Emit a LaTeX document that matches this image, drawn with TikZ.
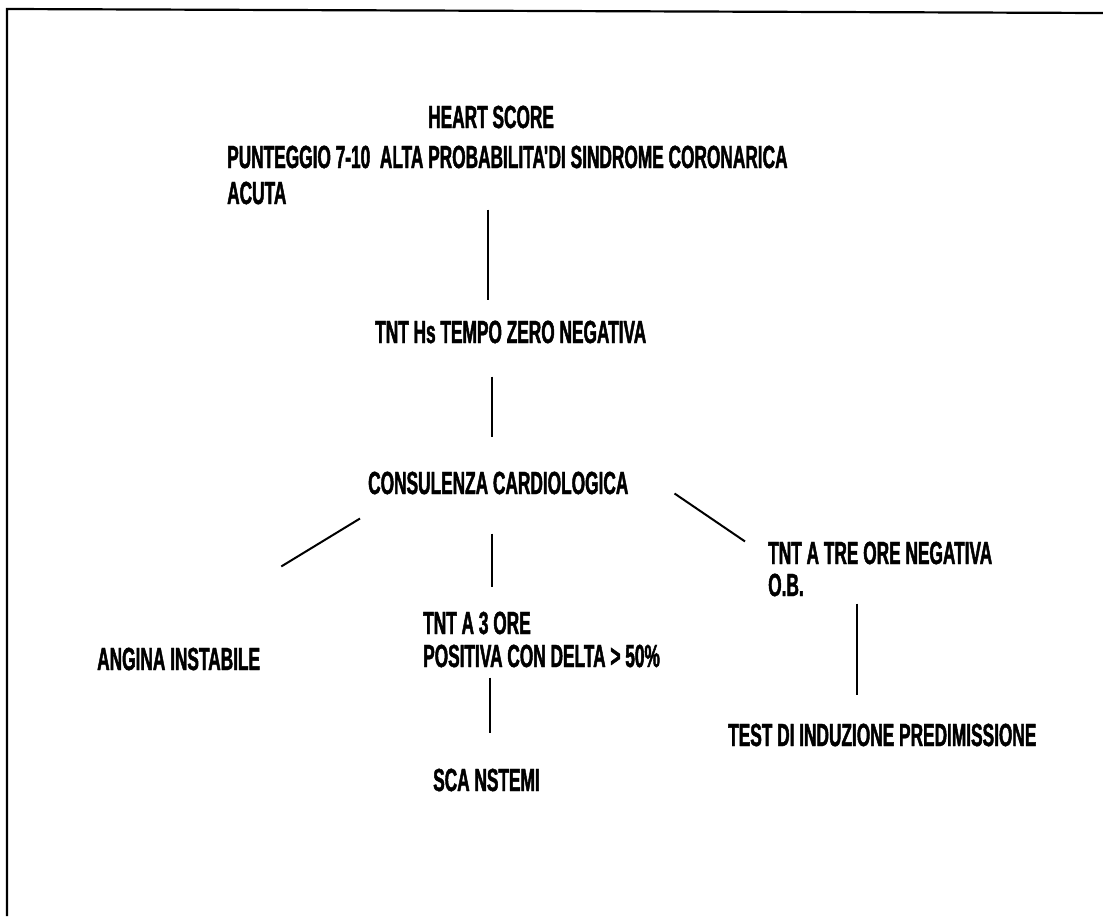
\documentclass[tikz,border=0pt]{standalone}
\usepackage{fontspec}
\setmainfont{Liberation Sans}[FakeStretch=0.54,FakeBold=1.4]
\begin{document}
\begin{tikzpicture}[x=1pt,y=-1pt,
  lbl/.style={font=\bfseries\fontsize{32}{33}\selectfont, inner sep=0pt, anchor=base west, align=left},
  link/.style={line width=2pt, black}]
\useasboundingbox (0,0) rectangle (1103,916);
% page frame (only the left and top edges show)
\draw[line width=2.2pt] (7,916) -- (7,9) -- (1103,13);

% nodes (multi-line nodes are placed by the baseline of their last line)
\node[lbl] (heart) at (428,128) {HEART SCORE};
\node[lbl, font=\bfseries\fontsize{32}{36}\selectfont] (punt) at (227,204)
  {PUNTEGGIO 7-10\ \ ALTA PROBABILITA\kern-1pt\textquotesingle\kern-3pt DI SINDROME CORONARICA\\ACUTA};
\node[lbl] (tnths) at (375,343) {TNT Hs TEMPO ZERO NEGATIVA};
\node[lbl] (consul) at (368,494) {CONSULENZA CARDIOLOGICA};
\node[lbl] (angina) at (97,670) {ANGINA INSTABILE};
\node[lbl] (tnt3) at (423,667) {TNT A 3 ORE\\POSITIVA CON DELTA > 50\%};
\node[lbl, font=\bfseries\fontsize{32}{32}\selectfont] (tntre) at (768,596) {TNT A TRE ORE NEGATIVA\\O.B.};
\node[lbl] (sca) at (433,791) {SCA NSTEMI};
\node[lbl] (test) at (728,746) {TEST DI INDUZIONE PREDIMISSIONE};

% x positions of the vertical connectors
\coordinate (stemA) at (488,0);
\coordinate (stemB) at (492,0);
\coordinate (stemC) at (490,0);
\coordinate (stemD) at (857,0);

% connectors
\draw[link] ([yshift=-5]punt.south -| stemA) -- ([yshift=20]tnths.north -| stemA);
\draw[link] ([yshift=-33]tnths.south -| stemB) -- ([yshift=34]consul.north -| stemB);
\draw[link] ([yshift=-39]consul.south -| stemB) -- ([yshift=24]tnt3.north -| stemB);
\draw[link] ([yshift=-10]tnt3.south -| stemC) -- ([yshift=35]sca.north -| stemC);
\draw[link] ([yshift=-7]tntre.south -| stemD) -- ([yshift=28]test.north -| stemD);
\draw[link] ([shift={(-8,24)}]consul.south west) -- ([shift={(21,-81)}]angina.north east);
\draw[link] ([shift={(46,-1)}]consul.south east) -- ([shift={(-23,0)}]tntre.north west);
\end{tikzpicture}
\end{document}
